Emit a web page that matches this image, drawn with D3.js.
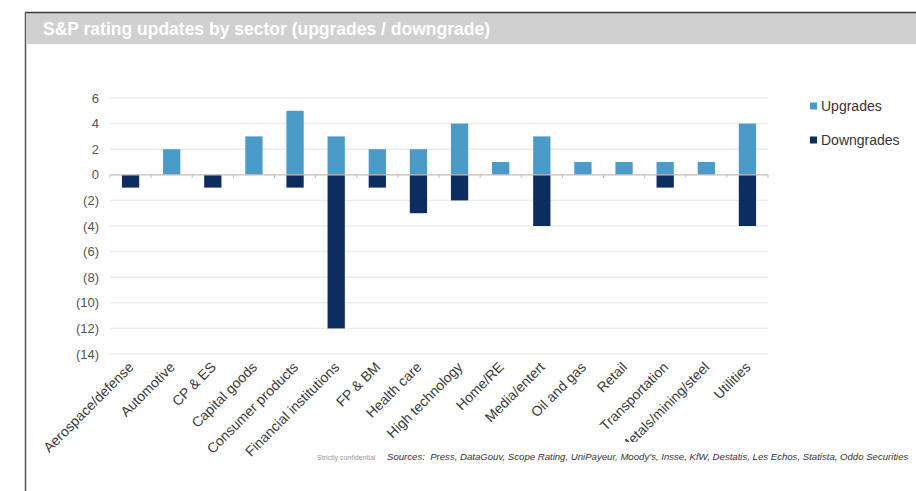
<!DOCTYPE html>
<html>
<head>
<meta charset="utf-8">
<script src="https://cdn.jsdelivr.net/npm/d3@7"></script>
<style>
  body { margin: 0; background: #fff; }
  svg { display: block; font-family: "Liberation Sans", Arial, sans-serif; }
</style>
</head>
<body>
<div id="graph"></div>
<script>
var sectors = ["Aerospace/defense", "Automotive", "CP & ES", "Capital goods", "Consumer products",
    "Financial institutions", "FP & BM", "Health care", "High technology", "Home/RE",
    "Media/entert", "Oil and gas", "Retail", "Transportation", "Metals/mining/steel", "Utilities"];
var upgrades   = [0, 2, 0, 3, 5, 3, 2, 2, 4, 1, 3, 1, 1, 1, 1, 4];
var downgrades = [-1, 0, -1, 0, -1, -12, -1, -3, -2, 0, -4, 0, 0, -1, 0, -4];
var yTicks = [6, 4, 2, 0, -2, -4, -6, -8, -10, -12, -14];
var seriesNames = ["Upgrades", "Downgrades"];
var colors = ["#4b9bc8", "#0d2c60"];

var W = 916, H = 491;
var margin = {top: 98, left: 110, right: 148, bottom: 137};
var w = W - margin.left - margin.right,
    h = H - margin.top - margin.bottom;

var svg = d3.select("#graph").append("svg")
    .attr("width", W)
    .attr("height", H);

// frame + title band
svg.append("rect").attr("x", 27).attr("y", 13).attr("width", W - 27).attr("height", 31).attr("fill", "#d0d0d0");
svg.append("line").attr("x1", 25).attr("x2", W).attr("y1", 12.5).attr("y2", 12.5).attr("stroke", "#3a3a3a").attr("stroke-width", 1.5);
svg.append("line").attr("x1", 25.5).attr("x2", 25.5).attr("y1", 12).attr("y2", H).attr("stroke", "#555").attr("stroke-width", 1.5);
svg.append("text")
    .attr("x", 43).attr("y", 35)
    .style("font-size", "17.5px").style("font-weight", "bold").style("fill", "#fff")
    .text("S&P rating updates by sector (upgrades / downgrade)");

var g = svg.append("g").attr("transform", "translate(" + margin.left + "," + margin.top + ")");

var x = d3.scaleBand().domain(sectors).range([0, w]).paddingInner(0.58).paddingOuter(0.29);
var y = d3.scaleLinear().domain([-14, 6]).range([h, 0]);

// grid
g.selectAll("line.grid")
    .data(yTicks.filter(function(d) { return d !== 0; }))
    .enter().append("line")
    .attr("class", "grid")
    .attr("x1", 0).attr("x2", w)
    .attr("y1", function(d) { return y(d); })
    .attr("y2", function(d) { return y(d); })
    .style("stroke", "#ececec")
    .style("stroke-width", "1.5px");

// y axis
var yAxis = d3.axisLeft(y).tickValues(yTicks).tickSize(0).tickPadding(11)
    .tickFormat(function(d) { return d < 0 ? "(" + (-d) + ")" : d; });
g.append("g")
    .attr("class", "y axis")
    .call(yAxis)
    .call(function(a) { a.select(".domain").remove(); })
    .selectAll("text")
    .style("font-size", "13px")
    .style("font-family", "Liberation Sans, Arial, sans-serif")
    .style("fill", "#555");

// bars
var series = [upgrades, downgrades];
series.forEach(function(vals, i) {
    g.selectAll(".bar" + i)
        .data(vals)
        .enter().append("rect")
        .attr("class", "bar" + i)
        .attr("x", function(d, j) { return x(sectors[j]); })
        .attr("y", function(d) { return y(Math.max(0, d)); })
        .attr("width", x.bandwidth())
        .attr("height", function(d) { return Math.abs(y(d) - y(0)); })
        .attr("fill", colors[i]);
});

// zero line with small ticks
g.append("line")
    .attr("x1", 0).attr("x2", w)
    .attr("y1", y(0)).attr("y2", y(0))
    .style("stroke", "#cbb9b3").style("stroke-width", "1.2px");
var step = x.step();
g.selectAll("line.zt")
    .data(d3.range(sectors.length + 1))
    .enter().append("line")
    .attr("class", "zt")
    .attr("x1", function(d) { return d * step; })
    .attr("x2", function(d) { return d * step; })
    .attr("y1", y(0)).attr("y2", y(0) + 3)
    .style("stroke", "#cbb9b3");

// x labels
var xAxis = d3.axisBottom(x).tickSize(0).tickPadding(0);
var xg = g.append("g")
    .attr("class", "x axis")
    .attr("transform", "translate(0," + (h + 14) + ")")
    .call(xAxis);
xg.select(".domain").remove();
xg.selectAll("text")
    .attr("text-anchor", "end")
    .attr("dy", 0)
    .attr("transform", "translate(4,0) rotate(-45)")
    .style("font-size", "14px")
    .style("font-family", "Liberation Sans, Arial, sans-serif")
    .style("fill", "#3a3a3a");

// footer box covers the label tails
svg.append("rect").attr("x", 312).attr("y", 442).attr("width", W - 312).attr("height", 30).attr("fill", "#fff");

// legend
var legend = svg.append("g").attr("transform", "translate(810,106)");
seriesNames.forEach(function(name, i) {
    legend.append("rect")
        .attr("x", 0).attr("y", i * 34 - 3.5)
        .attr("width", 7).attr("height", 7)
        .attr("fill", colors[i]);
    legend.append("text")
        .attr("x", 11).attr("y", i * 34)
        .attr("dy", ".35em")
        .style("font-size", "14px")
        .style("fill", "#333")
        .text(name);
});

// footer
svg.append("text")
    .attr("x", 317).attr("y", 460)
    .style("font-size", "7px").style("fill", "#999")
    .text("Strictly confidential");
svg.append("text")
    .attr("x", 387).attr("y", 460)
    .style("font-size", "9.6px").style("font-style", "italic").style("fill", "#333")
    .attr("xml:space", "preserve")
    .text("Sources:  Press, DataGouv, Scope Rating, UniPayeur, Moody\u2019s, Insse, KfW, Destatis, Les Echos, Statista, Oddo Securities");
</script>
</body>
</html>
